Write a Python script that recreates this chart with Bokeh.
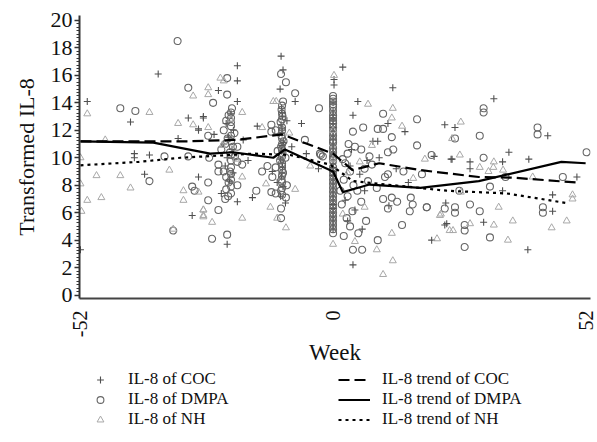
import math
from bokeh.plotting import figure
from bokeh.layouts import column
from bokeh.models import Range1d, FixedTicker, Legend, LegendItem
from bokeh.embed import file_html
from bokeh.resources import INLINE

# ---------------- data ----------------
coc_x = [-50.6, -52, -41.7, -36, -29.8, -27.7, -26.7, -31.9, -40.9, -40.9, -37.8, -38.8, -27.7, -29.0, -27.7,
         -19.7, -19.7, -23.6, -19.7, -26.7, -21, -22, -20.5, -21.5, -22.5, -20.8, -21.8, -22.2, -20.6, -21.3, -19.7, -21.8, -24.5, -23, -18.5,
         -15.6, -16.6, -17.5,
         -10.7, -10.3, -10.9, -7.8, -10.6, -10.4, -10.7, -10.5, -10.2, -10.6, -10.8, -10.4, -10.6, -10.3, -10.8, -9.5, -12.5, -8.5, -9.8, -11.5,
         -10.5, -10.5, -10.5, -10.5, -10.5,
         -5.5, -3, -6.5,
         0.2, 0.2, 0, 0, 0, 0, 0, 0, 0, 0, 0, 0, 0, 0, 0, 0, 0, 0,
         0, 0, 0, 0, 0, 0, 0, 0, 0, 0, 0, 0, 0, 0,
         2.0, 5.1, 12.3, 4.1, 11.3, 14.8, 23.0, 8.2, 9.2, 24.3, 20.8, 4.1, 23.0, 20.3, 23.4, 23.2, 31.0, 40.1, 34.9, 45.2, 45.2,
         33.1, 25.1, 44.2, 36.2, 28.2, 34.9, 40.3, 28.2, 50.2, 24.5, 3.5, 5.5, 6.5, 2.5, 4.5, 3.0, 7.0, 9.5, 13.0, 15.5, 3.8, 6.0, 11.5]
coc_y = [14.1, 3.3, 12.6, 16.1, 12.9, 12.0, 12.9, 11.4, 10.3, 10.0, 10.2, 8.8, 8.6, 5.8, 12.1,
         16.7, 15.6, 14.9, 14.1, 13.0, 13.2, 12.5, 12.0, 11.5, 11.0, 10.6, 10.0, 9.4, 8.9, 8.3, 6.8, 3.7, 11.7, 7.4, 11.3,
         12.3, 7.1, 9.8,
         17.4, 16.4, 15.0, 14.1, 13.6, 13.0, 12.4, 11.8, 11.1, 10.5, 9.9, 9.3, 8.6, 7.9, 7.2, 12.7, 9.0, 10.8, 6.7, 8.2,
         13.3, 12.1, 10.9, 9.6, 8.9,
         10.3, 9.2, 12.5,
         15.7, 15.3, 14.0, 13.4, 12.8, 12.2, 11.6, 11.0, 10.4, 9.6, 9.0, 8.4, 7.8, 7.2, 6.6, 6.0, 5.4, 4.8,
         13.1, 12.5, 11.9, 11.3, 10.7, 10.1, 9.3, 8.7, 8.1, 7.5, 6.9, 6.3, 5.7, 5.1,
         16.6, 14.1, 15.1, 13.1, 12.5, 11.9, 12.4, 11.2, 11.2, 9.9, 10.1, 2.2, 5.1, 4.0, 5.2, 6.7, 5.3, 3.3, 7.6, 6.1, 7.3,
         14.3, 12.2, 11.6, 10.4, 9.7, 9.7, 9.9, 9.2, 8.6, 9.9, 9.4, 8.8, 7.6, 6.9, 6.2, 5.4, 9.8, 10.0, 9.2, 8.2, 10.6, 4.8, 6.5]

dmpa_x = [-32, -29.8, -43.8, -40.7, -34.7, -29.8, -37.8, -32.9, -29.0, -28.5,
          -21.8, -21.8, -24.7, -20.8, -21.5, -22.0, -21.0, -22.5, -20.3, -21.7, -22.2, -20.6, -19.7, -21.2, -25.7, -25.5, -23.6, -23.6,
          -22.5, -21.2, -19.7, -18.7, -25.7, -19.7, -22.0, -21.5, -22.0, -21.6, -22.2, -25.7, -23.6, -24.9, -21.8, -20.2, -23.0,
          -21.0, -21.0, -21.0, -21.0, -21.0, -21.0, -21.0, -21.0, -21.0, -21.0, -21.0, -21.0,
          -15.8, -13.5, -14.6,
          -10.7, -9.7, -7.8, -10.3, -10.6, -10.4, -10.8, -12.7, -12.7, -11.8, -10.5, -10.6, -10.2, -10.7, -10.4, -10.9, -10.5, -10.3,
          -11.8, -12.5, -10.6, -12.7, -11.8, -10.7, -9.7, -10.7, -10.7, -9.5, -9.8, -11.4,
          -10.5, -10.5, -10.5, -10.5, -10.5, -10.5, -10.5, -10.5, -10.5, -10.5, -10.5, -10.5, -10.5, -10.5,
          -2.9, -5.8, -2.7, -2.1, -2.5,
          0, 0, 0, 0, 0, 0, 0, 0, 0, 0, 0, 0, 0, 0, 0, 0, 0, 0, 0, 0,
          0, 0, 0, 0, 0, 0, 0, 0, 0, 0, 0, 0, 0, 0, 0, 0, 0,
          10.3, 6.2, 17.3, 4.1, 9.2, 10.3, 12.1, 17.3, 3.2, 4.5, 5.8, 3.0, 20.3, 11.3, 12.4, 18.3, 10.7, 11.3, 10.3, 12.1, 13.2, 11.3,
          14.2, 9.2, 4.1, 6.0, 16.0, 16.4, 15.8, 19.3, 23.0, 2.5, 3.5, 2.2, 4.2, 5.0, 3.0, 1.8, 4.0, 2.8, 3.5, 2.2, 5.2, 6.5, 7.2,
          5.8, 6.8, 2.0, 1.5, 8.0, 9.0, 7.5, 14.5,
          27.1, 32.3, 27.1, 27.1, 43.2, 43.2, 30.2, 28.2, 19.3, 25.1, 25.1, 32.3, 31.0, 31.0, 25.1, 30.2, 42.1, 42.1, 52.2, 31.0,
          47.3, 26.0, 35.5]
dmpa_y = [18.5, 15.1, 13.6, 13.4, 10.1, 10.1, 8.3, 4.7, 7.9, 7.6,
          15.8, 14.6, 14.0, 13.6, 13.1, 12.7, 12.3, 12.0, 11.8, 11.4, 11.0, 10.8, 10.8, 10.4, 11.6, 10.0, 9.5, 9.0,
          9.0, 9.0, 9.7, 9.5, 8.2, 8.0, 8.6, 8.2, 7.7, 7.2, 7.0, 6.9, 6.2, 4.1, 4.4, 10.1, 10.6,
          13.3, 12.9, 12.6, 11.6, 11.2, 10.2, 9.8, 9.3, 8.8, 8.4, 7.9, 7.4,
          7.6, 9.4, 9.0,
          16.1, 15.5, 14.7, 14.1, 13.5, 13.0, 12.6, 12.4, 11.9, 12.0, 12.2, 11.6, 11.2, 10.8, 10.3, 9.8, 9.4, 8.9,
          9.3, 8.6, 8.4, 7.5, 7.4, 7.6, 7.1, 6.3, 5.6, 8.0, 10.0, 10.5,
          13.8, 13.2, 12.8, 12.0, 11.4, 11.0, 10.6, 10.1, 9.6, 9.1, 8.7, 8.2, 7.8, 7.3,
          13.6, 11.3, 10.3, 10.1, 10.2,
          14.5, 14.1, 13.7, 13.1, 12.5, 11.9, 11.3, 10.7, 10.1, 9.3, 8.7, 8.1, 7.5, 6.9, 6.3, 5.7, 5.1, 4.5, 12.9, 10.0,
          14.3, 13.9, 13.4, 12.7, 12.2, 11.6, 11.1, 10.4, 9.8, 9.0, 8.4, 7.8, 7.2, 6.6, 6.0, 5.4, 4.8,
          13.2, 12.2, 12.8, 11.9, 12.1, 12.1, 11.5, 10.9, 11.0, 10.8, 10.6, 10.3, 10.2, 10.4, 10.6, 8.8, 8.6, 8.8, 7.0, 7.1, 6.8, 6.3,
          5.1, 4.0, 3.3, 3.3, 7.1, 6.6, 6.1, 6.4, 6.3, 9.6, 9.0, 8.4, 8.0, 7.6, 7.2, 6.6, 6.1, 5.6, 5.0, 4.3, 4.5, 9.2, 8.3,
          6.8, 5.4, 9.9, 7.6, 9.5, 7.8, 10.1, 9.0,
          3.5, 4.2, 5.1, 4.7, 6.4, 6.0, 6.1, 6.6, 6.4, 6.4, 6.0, 7.9, 13.6, 13.3, 11.4, 11.6, 12.2, 11.7, 10.4, 10.0,
          8.6, 7.6, 8.6]

nh_x = [-28.8, -50.6, -37.8, -31.9, -28.8, -46.9, -52, -48.7, -43.8, -33.7, -52, -41.7, -50.6, -47.7, -51.8, -32.9, -30.8, -30.8, -27.7, -26.7, -26.7,
        -23.2, -22.5, -25.7, -25.7, -18.7, -25.7, -14.6, -18.7, -26.7, -26.7, -24.9, -18.7, -21.0, -22.8, -20.0,
        -12.3, -11.7, -13.8, -7.8, -12.9, -11.5, -9.7, -4.7, -9.0,
        0.2, 0, 0, 0,
        7.2, 12.3, 12.1, 14.2, 24.5, 8.0, 18.9, 12.1, 9.0, 12.3, 10.3, 22.0, 21.4, 24.7, 36.0, 33.1, 37.0, 28.2, 24.0, 45.0, 48.1,
        49.3, 49.3, 34.1, 22.2, 26.3, 26.1, 33.1, 30.2, 32.0, 33.0, 35.0, 41.1, 26.3, 3.0, 5.5, 2.0, 4.5, 6.5, 16.5]
nh_y = [14.5, 13.2, 13.3, 12.5, 12.4, 11.3, 10.0, 8.7, 8.7, 9.1, 8.1, 7.8, 6.9, 7.1, 6.1, 4.8, 7.6, 6.9, 7.5, 5.8, 6.2,
        15.8, 15.6, 15.1, 14.6, 13.3, 12.2, 12.2, 8.6, 6.2, 5.7, 5.3, 5.6, 12.8, 10.9, 9.9,
        14.1, 14.1, 8.1, 7.7, 6.4, 5.6, 4.9, 9.4, 11.8,
        16.0, 3.7, 12.0, 9.9,
        13.9, 13.6, 12.9, 12.3, 11.4, 10.9, 9.9, 4.5, 3.3, 2.5, 1.5, 5.8, 4.1, 4.7, 4.0, 5.1, 5.4, 5.2, 4.7, 4.9, 5.4,
        7.3, 7.0, 6.4, 5.9, 12.6, 10.2, 9.7, 9.3, 9.0, 9.3, 9.1, 8.6, 7.5, 8.9, 9.7, 5.9, 3.9, 6.4, 8.5]

coc_trend_x = [-52, -30, -20, -10.5, 0, 4, 9.5, 18, 30, 37, 50]
coc_trend_y = [11.2, 11.2, 11.3, 11.7, 10.3, 9.1, 9.6, 9.1, 8.6, 8.55, 8.2]
dmpa_trend_x = [-52, -37, -25.3, -20.6, -12.3, -9.9, 0, 2, 5, 7.5, 18, 30, 47, 52]
dmpa_trend_y = [11.2, 11.1, 10.3, 10.4, 10.0, 10.6, 9.0, 7.5, 7.8, 8.05, 7.8, 8.3, 9.7, 9.6]
nh_trend_x = [-52, -40, -31.4, -16.4, -8.8, -0.6, 4.1, 23.4, 35.8, 48.1]
nh_trend_y = [9.45, 9.7, 10.0, 10.3, 10.2, 9.5, 8.3, 7.6, 7.4, 6.7]

y_ticks = [0, 2, 4, 6, 8, 10, 12, 14, 16, 18, 20]
x_ticks = [-52, 0, 52]
x_tick_labels = {-52: "-52", 0: "0", 52: "52"}

legend_labels = ["IL-8 of COC", "IL-8 of DMPA", "IL-8 of NH",
                 "IL-8 trend of COC", "IL-8 trend of DMPA", "IL-8 trend of NH"]

FONT = "Liberation Serif"

# styles
coc_style = dict(marker="cross", size=7, line_color="#505050", line_width=1.1)
dmpa_style = dict(marker="circle", size=7, fill_color=None, line_color="#666666", line_width=1.1)
nh_style = dict(marker="triangle", size=7, fill_color=None, line_color="#a8a8a8", line_width=1.0)
coc_line = dict(line_color="black", line_width=2.2, line_dash="11 5")
dmpa_line = dict(line_color="black", line_width=2.2)
nh_line = dict(line_color="black", line_width=2.2, line_dash="3 4")

p = figure(width=597, height=368, output_backend="svg", toolbar_location=None,
           x_range=Range1d(-52.2, 53.0), y_range=Range1d(-0.25, 20.36),
           min_border_left=79, min_border_right=7, min_border_top=15, min_border_bottom=66)
p.outline_line_color = None
p.xgrid.visible = False
p.ygrid.visible = False

p.scatter(coc_x, coc_y, **coc_style)
p.scatter(dmpa_x, dmpa_y, **dmpa_style)
p.scatter(nh_x, nh_y, **nh_style)
p.line(coc_trend_x, coc_trend_y, **coc_line)
p.line(dmpa_trend_x, dmpa_trend_y, **dmpa_line)
p.line(nh_trend_x, nh_trend_y, **nh_line)

# axes
yax = p.yaxis[0]
yax.ticker = FixedTicker(ticks=y_ticks, minor_ticks=[i * 0.25 for i in range(0, 81)])
yax.axis_line_width = 2
yax.axis_line_color = "#333333"
yax.major_tick_line_color = "#333333"
yax.major_tick_line_width = 1.5
yax.major_tick_out = 5
yax.major_tick_in = 0
yax.minor_tick_line_color = "#333333"
yax.minor_tick_out = 3
yax.minor_tick_in = 0
yax.major_label_text_font = FONT
yax.major_label_text_font_size = "22px"
yax.major_label_text_color = "#111111"
yax.major_label_standoff = 2
yax.axis_label = "Transformed IL-8"
yax.axis_label_text_font = FONT
yax.axis_label_text_font_size = "22px"
yax.axis_label_text_font_style = "normal"
yax.axis_label_text_color = "#111111"
yax.axis_label_standoff = 9

xax = p.xaxis[0]
xax.ticker = FixedTicker(ticks=x_ticks, minor_ticks=[])
xax.major_label_overrides = x_tick_labels
xax.major_label_orientation = math.pi / 2
xax.axis_line_width = 2
xax.axis_line_color = "#444444"
xax.major_tick_out = 0
xax.major_tick_in = 0
xax.minor_tick_out = 0
xax.minor_tick_in = 0
xax.major_label_text_font = FONT
xax.major_label_text_font_size = "20px"
xax.major_label_text_color = "#111111"
xax.major_label_standoff = 12
xax.axis_label = "Week"
xax.axis_label_text_font = FONT
xax.axis_label_text_font_size = "23px"
xax.axis_label_text_font_style = "normal"
xax.axis_label_text_color = "#111111"
xax.axis_label_standoff = 0

# legend strip under the plot: same series, drawn outside its (empty) view so only the legend shows
q = figure(width=597, height=74, output_backend="svg", toolbar_location=None,
           x_range=Range1d(1000, 1001), y_range=Range1d(1000, 1001),
           min_border_left=79, min_border_right=7, min_border_top=0, min_border_bottom=0)
q.outline_line_color = None
q.axis.visible = False
q.xgrid.visible = False
q.ygrid.visible = False
g1 = q.scatter(coc_x, coc_y, **coc_style)
g2 = q.scatter(dmpa_x, dmpa_y, **dmpa_style)
g3 = q.scatter(nh_x, nh_y, **nh_style)
g4 = q.line(coc_trend_x, coc_trend_y, **coc_line)
g5 = q.line(dmpa_trend_x, dmpa_trend_y, **dmpa_line)
g6 = q.line(nh_trend_x, nh_trend_y, **nh_line)

items = [LegendItem(label=legend_labels[0], renderers=[g1]),
         LegendItem(label=legend_labels[1], renderers=[g2]),
         LegendItem(label=legend_labels[2], renderers=[g3]),
         LegendItem(label=legend_labels[3], renderers=[g4]),
         LegendItem(label=legend_labels[4], renderers=[g5]),
         LegendItem(label=legend_labels[5], renderers=[g6])]
leg = Legend(items=items, ncols=2, location=(5, 13),
             label_text_font=FONT, label_text_font_size="17px", label_text_color="#111111",
             glyph_width=32, glyph_height=17, label_height=17, label_width=210, label_standoff=12,
             spacing=0, padding=0, margin=0, border_line_color=None, background_fill_alpha=0)
q.add_layout(leg, "center")

layout = column(p, q)
open("out.html", "w").write(file_html(layout, INLINE))
